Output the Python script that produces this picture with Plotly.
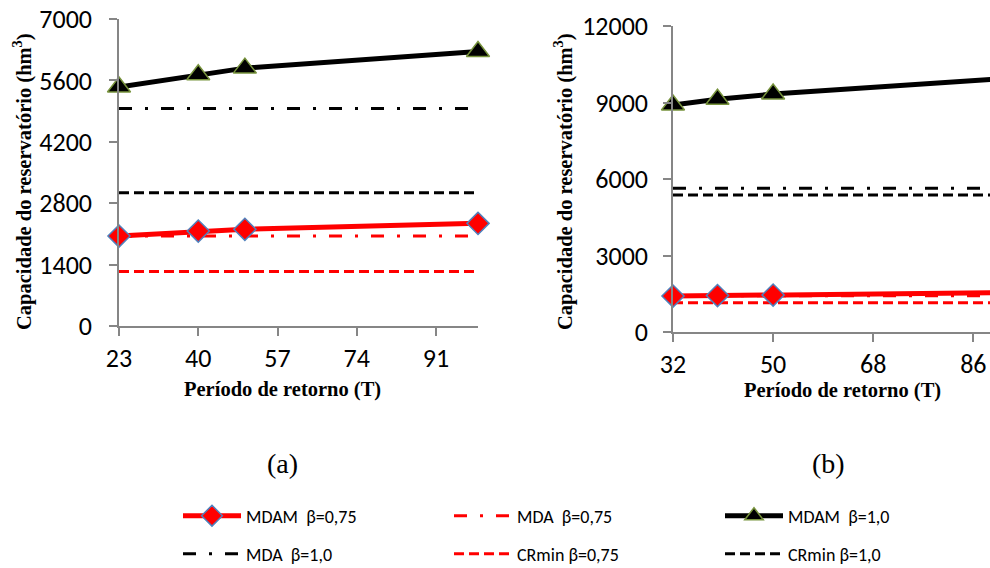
import plotly.graph_objects as go

# ---- data (a) ----
T_a = [23, 40, 50, 100]
mdam075_a = [2050, 2165, 2205, 2340]
mdam10_a = [5450, 5730, 5880, 6260]
mda075_a = 2050
mda10_a = 4960
crmin075_a = 1240
crmin10_a = 3040

# ---- data (b) ----
T_b = [32, 40, 50, 100]
mdam075_b = [1410, 1430, 1450, 1560]
mdam10_b = [8900, 9130, 9330, 10060]
mda075_b = 1420
mda10_b = 5640
crmin075_b = 1150
crmin10_b = 5370

xticks_a = [23, 40, 57, 74, 91]
yticks_a = [0, 1400, 2800, 4200, 5600, 7000]
xticks_b = [32, 50, 68, 86]
yticks_b = [0, 3000, 6000, 9000, 12000]

RED = "#FF0000"
BLACK = "#000000"
DASHDOT = "13px,13px,3px,13px"
DASH = "10px,5px"
SANS = "Calibri, Carlito, Lato, sans-serif"
SERIF = "Liberation Serif, Times New Roman, serif"
TICKFONT = dict(family=SANS, size=26, color="#000")
TITLEFONT = dict(family=SERIF, size=20.5, color="#000")

fig = go.Figure()

def add_panel(T, mdam075, mdam10, mda075, mda10, cr075, cr10, xa, ya, show):
    fig.add_trace(go.Scatter(x=T, y=[mda075] * len(T), mode="lines",
                             line=dict(color=RED, width=3, dash=DASHDOT),
                             name="MDA\u00a0\u00a0β=0,75", xaxis=xa, yaxis=ya,
                             showlegend=show, legend="legend", legendrank=2))
    fig.add_trace(go.Scatter(x=T, y=[cr075] * len(T), mode="lines",
                             line=dict(color=RED, width=3, dash=DASH),
                             name="CRmin β=0,75", xaxis=xa, yaxis=ya,
                             showlegend=show, legend="legend2", legendrank=5))
    fig.add_trace(go.Scatter(x=T, y=[mda10] * len(T), mode="lines",
                             line=dict(color=BLACK, width=3, dash=DASHDOT),
                             name="MDA\u00a0\u00a0β=1,0", xaxis=xa, yaxis=ya,
                             showlegend=show, legend="legend2", legendrank=4))
    fig.add_trace(go.Scatter(x=T, y=[cr10] * len(T), mode="lines",
                             line=dict(color=BLACK, width=3, dash=DASH),
                             name="CRmin β=1,0", xaxis=xa, yaxis=ya,
                             showlegend=show, legend="legend2", legendrank=6))
    fig.add_trace(go.Scatter(x=T, y=mdam075, mode="lines+markers",
                             line=dict(color=RED, width=5),
                             marker=dict(symbol="diamond", size=17, color=RED,
                                         line=dict(color="#4F81BD", width=1.5)),
                             name="MDAM\u00a0\u00a0β=0,75", xaxis=xa, yaxis=ya,
                             showlegend=show, legend="legend", legendrank=1, cliponaxis=False))
    fig.add_trace(go.Scatter(x=T, y=mdam10, mode="lines+markers",
                             line=dict(color=BLACK, width=5),
                             marker=dict(symbol="triangle-up", size=20, color=BLACK,
                                         line=dict(color="#77933C", width=1.5)),
                             name="MDAM\u00a0\u00a0β=1,0", xaxis=xa, yaxis=ya,
                             showlegend=show, legend="legend", legendrank=3, cliponaxis=False))

add_panel(T_a, mdam075_a, mdam10_a, mda075_a, mda10_a, crmin075_a, crmin10_a, "x", "y", True)
add_panel(T_b, mdam075_b, mdam10_b, mda075_b, mda10_b, crmin075_b, crmin10_b, "x2", "y2", False)

axis_common = dict(showgrid=False, zeroline=False, showline=True, linecolor="#868686",
                   linewidth=1.5, ticks="outside", ticklen=8, tickcolor="#868686",
                   tickwidth=1.5, tickfont=TICKFONT, tickformat="d", automargin=False)

legend_common = dict(orientation="h", xref="container", yref="container",
                     xanchor="left", yanchor="middle",
                     entrywidth=198, entrywidthmode="pixels", itemwidth=58,
                     font=dict(family=SANS, size=18, color="#000"),
                     bgcolor="rgba(0,0,0,0)", traceorder="normal",
                     borderwidth=0, tracegroupgap=0)

fig.update_layout(
    width=990, height=568,
    margin=dict(l=0, r=0, t=0, b=0, autoexpand=False),
    paper_bgcolor="white", plot_bgcolor="white",
    xaxis=dict(domain=[119 / 990, 478 / 990], range=[23, 100], tickvals=xticks_a,
               anchor="y", ticklabelstandoff=0, **axis_common),
    yaxis=dict(domain=[1 - 326 / 568, 1 - 19 / 568], range=[0, 7000], tickvals=yticks_a,
               anchor="x", ticklabelstandoff=12, **axis_common),
    xaxis2=dict(domain=[673 / 990, 1.0], range=[32, 89], tickvals=xticks_b,
                anchor="y2", ticklabelstandoff=0, **axis_common),
    yaxis2=dict(domain=[1 - 332 / 568, 1 - 26 / 568], range=[0, 12000], tickvals=yticks_b,
                anchor="x2", ticklabelstandoff=10, **axis_common),
    legend=dict(x=178 / 990, y=1 - 516 / 568, **legend_common),
    legend2=dict(x=178 / 990, y=1 - 554 / 568, **legend_common),
    showlegend=True,
)

titles = [
    dict(text="<b>Período de retorno (T)</b>", x=282 / 990, y=1 - 389 / 568, textangle=0),
    dict(text="<b>Período de retorno (T)</b>", x=842 / 990, y=1 - 390 / 568, textangle=0),
    dict(text="<b>Capacidade do reservatório (hm<sup>3</sup>)</b>", x=22 / 990, y=1 - 182 / 568, textangle=-90),
    dict(text="<b>Capacidade do reservatório (hm<sup>3</sup>)</b>", x=563 / 990, y=1 - 182 / 568, textangle=-90),
]
for a in titles:
    fig.add_annotation(xref="paper", yref="paper", showarrow=False, xanchor="center",
                       yanchor="middle", font=TITLEFONT, **a)

for lab, xp in (("(a)", 282), ("(b)", 828)):
    fig.add_annotation(text=lab, x=xp / 990, y=1 - 463 / 568, xref="paper", yref="paper",
                       showarrow=False, xanchor="center", yanchor="middle",
                       font=dict(family=SERIF, size=28, color="#000"))

fig.write_html("out.html", config={"displayModeBar": False},
               post_script="document.body.style.margin='0';document.body.style.overflow='hidden';")
